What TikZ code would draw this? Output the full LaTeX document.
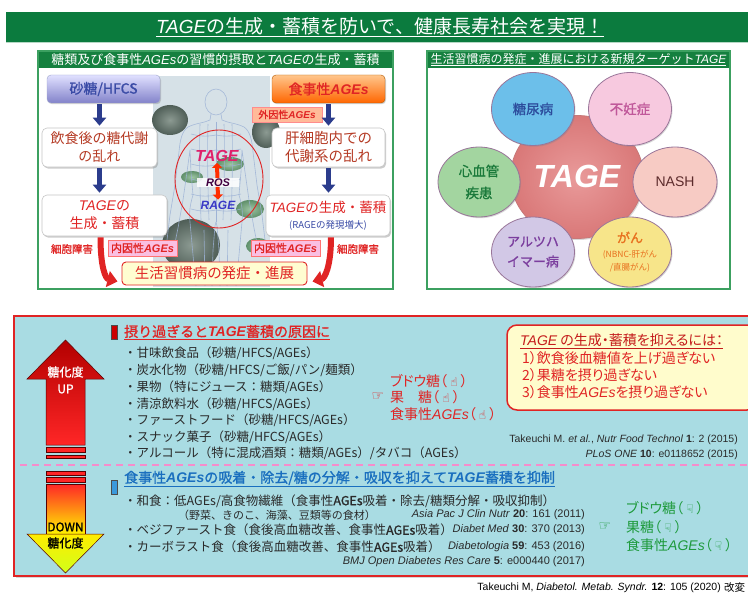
\documentclass[tikz,border=0pt]{standalone}
\usepackage{fontspec}
\usetikzlibrary{shadows,arrows.meta,calc,shapes.geometric}
\setmainfont{Noto Sans CJK JP}[BoldFont={Noto Sans CJK JP},BoldFeatures={FakeBold=1.2}]
\newfontfamily\jpp{Noto Sans CJK JP}[RawFeature=+palt,BoldFont={Noto Sans CJK JP},BoldFeatures={FakeBold=1.2}]
\newfontfamily\lsans{Liberation Sans}
\newfontfamily\dvs{DejaVu Sans}
\newcommand\fs[2]{\fontsize{#1}{#2}\selectfont}
\newcommand\lit[1]{{\lsans\itshape #1}}
\newcommand\lbi[1]{{\lsans\bfseries\itshape #1}}
\newcommand\up{{\dvs\fs{12}{12}☝}}
\newcommand\dn{{\dvs\fs{12}{12}☟}}

\definecolor{ttlgreen}{HTML}{0B7B3E}
\definecolor{pnlgreen}{HTML}{3CA060}
\definecolor{hdrgreen}{HTML}{15803F}
\definecolor{navy}{HTML}{2B3C8C}
\definecolor{sugtxt}{HTML}{3A4BA6}
\definecolor{brick}{HTML}{B53A24}
\definecolor{tred}{HTML}{E02424}
\definecolor{dred}{HTML}{C41A1A}
\definecolor{mag}{HTML}{E0206A}
\definecolor{lbg}{HTML}{A9DCE3}
\definecolor{figbg}{HTML}{D6E1E7}
\definecolor{figline}{HTML}{9DB2D6}
\definecolor{txt}{HTML}{2A2A2A}
\definecolor{bluehd}{HTML}{1A6FBF}
\definecolor{gtxt}{HTML}{1E9A3C}
\definecolor{blobin}{HTML}{8C9A92}
\definecolor{blobout}{HTML}{4F5E57}
\definecolor{leafin}{HTML}{9CC4A2}
\definecolor{leafout}{HTML}{5F8F6A}
\definecolor{coreA}{HTML}{E99A9A}
\definecolor{coreB}{HTML}{D97878}
\definecolor{dmfill}{HTML}{6CBFEA}
\definecolor{dmtxt}{HTML}{2C4C9C}
\definecolor{inffill}{HTML}{F7C9DF}
\definecolor{inftxt}{HTML}{C0589A}
\definecolor{cvdfill}{HTML}{A3D5A0}
\definecolor{cvdtxt}{HTML}{1B7A3B}
\definecolor{nashfill}{HTML}{F7CBC4}
\definecolor{nashtxt}{HTML}{5C2B2B}
\definecolor{alzfill}{HTML}{D2C8E6}
\definecolor{alztxt}{HTML}{7B3E9E}
\definecolor{canfill}{HTML}{F7E58A}
\definecolor{cantxt}{HTML}{E8701E}

\tikzset{
  wbox/.style={draw=gray!45, fill=white, rounded corners=5pt, line width=0.6pt,
    drop shadow={shadow xshift=1.2pt, shadow yshift=-1.6pt, opacity=0.4},
    inner sep=0pt, align=center},
  bluearr/.style={draw=navy, line width=4.5pt, -{Triangle[length=8pt,width=13pt]}},
  redarr/.style={draw=tred, line width=6pt, -{Triangle[length=10pt,width=16pt]}},
  sat/.style={ellipse, draw=gray!65!violet!80, line width=0.8pt, minimum width=83pt,
    minimum height=73pt, inner sep=0pt, align=center,
    drop shadow={shadow xshift=1pt, shadow yshift=-1.2pt, opacity=0.3}},
  item/.style={anchor=west, inner sep=0pt, text=txt},
  cite/.style={inner sep=0pt, text=txt, font=\lsans\fs{10.5}{12}},
}

\begin{document}
\begin{tikzpicture}[x=1pt,y=-1pt]
\useasboundingbox (0,0) rectangle (748,594);
\fill[white] (0,0) rectangle (748,594);
\clip (0,0) rectangle (748,594);

% ---------- title bar ----------
\fill[ttlgreen] (6,12) rectangle (760,42);
\fill[ttlgreen!30!white] (6,42) rectangle (760,43.5);
\node[text=white, font=\fs{19}{22}, inner sep=0pt] (title) at (380,27)
  {\underline{\lit{TAGE}の生成・蓄積を防いで、健康長寿社会を実現！}};

% ---------- left panel ----------
\draw[pnlgreen, line width=1.2pt, fill=white] (38,51) rectangle (393,289);
\fill[hdrgreen] (38.6,51.6) rectangle (392.4,68);
\node[text=white, font=\fs{13}{15}, inner sep=0pt] (lhdr) at (215.5,60)
  {糖類及び食事性\lit{AGEs}の習慣的摂取と\lit{TAGE}の生成・蓄積};

% body picture in the middle
\fill[figbg] (153,76) rectangle (270,287);
\shade[inner color=blobin, outer color=blobout] (170,120) ellipse (18 and 15);
\shade[inner color=blobin, outer color=blobout] (266,132) ellipse (14 and 16);
\shade[inner color=blobin, outer color=blobout] (191,245) ellipse (29 and 26);
\shade[inner color=leafin, outer color=leafout] (230,164) ellipse (14 and 7);
\shade[inner color=leafin, outer color=leafout] (192,177) ellipse (11 and 6);
\shade[inner color=leafin, outer color=leafout] (250,209) ellipse (14 and 9);
\shade[inner color=leafin, outer color=leafout] (258,246) ellipse (12 and 8);
\begin{scope}[figline, line width=0.6pt, opacity=0.85]
  \draw (216,102) ellipse (11 and 13);
  \foreach \s in {1,-1}{
    \begin{scope}[shift={(216,0)}, xscale=\s]
      \draw (5,114) -- (6,120) .. controls (12,123) and (20,123) .. (28,127)
            .. controls (34,131) and (36,140) .. (37,152) -- (41,185) -- (46,215)
            -- (49,240) .. controls (50,248) and (45,252) .. (42,248)
            -- (38,228) -- (33,200) -- (29,172) -- (26,150)
            -- (25,172) -- (23,195) .. controls (26,205) and (27,212) .. (26,222)
            -- (23,255) -- (20,286);
      \draw (4,286) -- (3,250) -- (1,226) -- (0,222);
      \draw (0,122) -- (0,222);
      \foreach \yy in {135,150,165,180,195,210}{
        \draw (0,\yy) .. controls (10,\yy+2) and (18,\yy+1) .. (25,\yy-1);
      }
      \foreach \xx in {8,16}{
        \draw (\xx,124) .. controls (\xx+1,160) and (\xx,190) .. (\xx-1,220);
      }
      \draw (12,230) -- (11,286);
    \end{scope}
  }
\end{scope}

% boxes
\node[draw=navy!45, rounded corners=4pt, top color=blue!12!white, bottom color=blue!40!gray!70,
      minimum width=113pt, minimum height=28pt, inner sep=0pt,
      drop shadow={shadow xshift=1pt, shadow yshift=-1.2pt, opacity=0.35},
      text=sugtxt, font=\fs{14}{16}\bfseries] (sugar) at (103.5,89) {砂糖/HFCS};
\node[draw=orange!70!black, rounded corners=4pt, top color=orange!45!white, bottom color=orange!80!red,
      minimum width=113pt, minimum height=28pt, inner sep=0pt,
      drop shadow={shadow xshift=1pt, shadow yshift=-1.2pt, opacity=0.35},
      text=tred, font=\fs{14}{16}\bfseries] (age) at (328.5,89) {食事性\lbi{AGEs}};
\node[draw=red!45, fill=red!35!orange!40!white, minimum width=70pt, minimum height=15pt,
      inner sep=0pt, text=tred, font=\fs{10}{12}\bfseries] (exo) at (287,114.5) {外因性\lbi{AGEs}};

\node[wbox, minimum width=115pt, minimum height=39pt, text=brick, font=\fs{14}{18}]
  (meta) at (99.5,147.5) {飲食後の糖代謝\\の乱れ};
\node[wbox, minimum width=113pt, minimum height=39pt, text=brick, font=\fs{14.5}{18}]
  (liver) at (328.5,147.5) {肝細胞内での\\代謝系の乱れ};
\node[wbox, minimum width=125pt, minimum height=41pt, text=tred, font=\fs{14}{18}]
  (tgl) at (104.5,215.5) {\lit{TAGE}の\\生成・蓄積};
\node[wbox, minimum width=124pt, minimum height=41pt, text=tred, font=\fs{13.5}{16}]
  (tgr) at (328,215.5) {\lit{TAGE}の生成・蓄積\\{\fs{9.5}{11}\color{sugtxt}(RAGEの発現増大)}};

\draw[bluearr] (meta.north |- sugar.south) ++(0,1) -- ($(meta.north)+(0,-2)$);
\draw[bluearr] (liver.north |- age.south) ++(0,1) -- ($(liver.north)+(0,-2)$);
\draw[bluearr] (meta.south) ++(0,1) -- ($(tgl.north -| meta.south)+(0,-2)$);
\draw[bluearr] (liver.south) ++(0,1) -- ($(tgr.north -| liver.south)+(0,-2)$);

\node[text=tred, font=\fs{10.5}{12}\bfseries, inner sep=0pt] (harmL) at (72,249) {細胞障害};
\node[text=tred, font=\fs{10.5}{12}\bfseries, inner sep=0pt] (harmR) at (358,249) {細胞障害};
\node[draw=red!55, fill=magenta!25!white, minimum width=69pt, minimum height=16pt,
      inner sep=0pt, text=tred, font=\fs{11}{12}\bfseries] (endoL) at (142.5,248) {内因性\lbi{AGEs}};
\node[draw=red!55, fill=magenta!25!white, minimum width=69pt, minimum height=16pt,
      inner sep=0pt, text=tred, font=\fs{11}{12}\bfseries] (endoR) at (285.5,248) {内因性\lbi{AGEs}};

\node[draw=tred, line width=0.9pt, fill=yellow!18!white, rounded corners=4pt,
      minimum width=185pt, minimum height=23pt, inner sep=0pt,
      text=tred, font=\fs{14.5}{16}] (disease) at (214.5,273.5) {生活習慣病の発症・進展};

\draw[redarr] ($(tgl.south)+(-4,1)$) .. controls +(0,30) and +(-12,-3) .. ($(disease.west)+(-4,8)$);
\draw[redarr] ($(tgr.south)+(3,1)$) .. controls +(0,30) and +(12,-3) .. ($(disease.east)+(5,8)$);

% TAGE / ROS / RAGE circle
\node[ellipse, draw=tred, line width=0.9pt, minimum width=88pt, minimum height=98pt] (ring) at (219,179) {};
\node[text=mag, font=\fs{16}{18}, inner sep=1pt] (tage) at (217,156) {\lbi{TAGE}};
\node[text=blue!55!gray, font=\fs{12}{14}, inner sep=1pt] (rage) at (218,205) {\lbi{RAGE}};
\draw[draw=red!65!orange, line width=4pt, {Triangle[length=5pt,width=10pt]}-{Triangle[length=5pt,width=10pt]}]
  (tage.south) -- (rage.north);
\fill[white, opacity=0.85] (197,178) rectangle (239,187);
\node[text=violet!50!black, font=\fs{11}{12}, inner sep=0pt] (ros) at (218,182.5) {\lbi{ROS}};

% ---------- right panel ----------
\draw[pnlgreen, line width=1.2pt, fill=white] (427,51) rectangle (730,289);
\fill[hdrgreen] (427.6,51.6) rectangle (729.4,68);
\node[text=white, font=\fs{12}{14}, inner sep=0pt] (rhdr) at (578.5,59.5)
  {\underline{生活習慣病の発症・進展における新規ターゲット\lit{TAGE}}};

\node[ellipse, draw=coreB!80!gray, line width=0.8pt, inner color=coreA, outer color=coreB,
      minimum width=133pt, minimum height=123pt, inner sep=0pt,
      drop shadow={shadow xshift=1pt, shadow yshift=-1.5pt, opacity=0.3}] (core) at (577,177) {};
\node[text=white, font=\fs{32}{34}, inner sep=0pt] (coretxt) at (577,176) {\lbi{TAGE}};

\node[sat, fill=dmfill, text=dmtxt, font=\fs{13.5}{17}\bfseries] (dm) at (533,109) {糖尿病};
\node[sat, fill=inffill, text=inftxt, font=\fs{13.5}{17}\bfseries] (inf) at (630,109) {不妊症};
\node[sat, minimum width=82pt, minimum height=70pt, fill=cvdfill, text=cvdtxt, font=\fs{13.5}{22}\bfseries] (cvd) at (479,182) {心血管\\疾患};
\node[sat, minimum width=84pt, minimum height=70pt, fill=nashfill, text=nashtxt, font=\lsans\fs{14}{16}] (nash) at (675,182) {NASH};
\node[sat, minimum width=83pt, minimum height=70pt, fill=alzfill, text=alztxt, font=\fs{13}{20}\bfseries] (alz) at (533,252) {アルツハ\\イマー病};
\node[sat, minimum width=83pt, minimum height=70pt, fill=canfill, text=cantxt, font=\fs{13}{16}\bfseries] (can) at (630,252)
  {がん\\[-1pt]{\fs{8.5}{10}\mdseries (NBNC-肝がん}\\[-3pt]{\fs{8.5}{10}\mdseries /直腸がん)}};

% ---------- lower panel ----------
\fill[lbg, draw=tred, line width=1.6pt,
      drop shadow={shadow xshift=2pt, shadow yshift=-2pt, opacity=0.3}] (14,316) rectangle (770,576);
\coordinate (dashL) at (20,465);
\coordinate (dashR) at (748,465);
\draw[magenta!45!white, line width=1.2pt, dash pattern=on 7pt off 5pt] (dashL) -- (dashR);

% glycation UP arrow
\shade[top color=red!70!black, bottom color=red!85!white, draw=red!35!black, line width=0.5pt]
  (65.5,340) -- (104,379) -- (85,379) -- (85,445) -- (46,445) -- (46,379) -- (27,379) -- cycle;
\filldraw[fill=red!85!white, draw=red!35!black, line width=0.5pt] (46,447.5) rectangle (85,452.5);
\filldraw[fill=red!85!white, draw=red!35!black, line width=0.5pt] (46,455) rectangle (85,458.5);
\node[text=white, font=\fs{12}{14}\bfseries, inner sep=0pt] (upA) at (65.5,372) {糖化度};
\node[text=white, font=\fs{12}{14}\bfseries, inner sep=0pt] (upB) at (65.5,389) {UP};

% glycation DOWN arrow
\filldraw[fill=red!85!white, draw=red!35!black, line width=0.5pt] (46,471.5) rectangle (85,475);
\filldraw[fill=red!85!white, draw=red!35!black, line width=0.5pt] (46,477) rectangle (85,482);
\shade[top color=red!85!white, middle color=orange!90!yellow, bottom color=yellow!90!orange, draw=red!35!black, line width=0.5pt]
  (46,484) rectangle (85,534);
\shade[top color=yellow!85!orange, bottom color=yellow!80!green!90!white, draw=red!35!black, line width=0.5pt]
  (27,534) -- (104,534) -- (65.5,573) -- cycle;
\node[text=black, font=\fs{12}{14}\bfseries, inner sep=0pt] (dnA) at (65.5,527) {DOWN};
\node[text=black, font=\fs{12}{14}\bfseries, inner sep=0pt] (dnB) at (65.5,543) {糖化度};

% upper block: causes
\filldraw[fill=red!80!black, draw=black!70, line width=0.4pt] (111,325.5) rectangle (117,339);
\node[item, text=tred, font=\fs{14}{16}\bfseries] (hdA) at (124,332.5) {\underline{摂り過ぎると\lbi{TAGE}蓄積の原因に}};
\begin{scope}[font=\fs{12.5}{14}]
\node[item] (a1) at (124,353) {・甘味飲食品（砂糖/HFCS/AGEs）};
\node[item] (a2) at (124,370) {・炭水化物（砂糖/HFCS/ご飯/パン/麺類）};
\node[item] (a3) at (124,387) {・果物（特にジュース：糖類/AGEs）};
\node[item] (a4) at (124,404) {・清涼飲料水（砂糖/HFCS/AGEs）};
\node[item] (a5) at (124,420) {・ファーストフード（砂糖/HFCS/AGEs）};
\node[item] (a6) at (124,437) {・スナック菓子（砂糖/HFCS/AGEs）};
\node[item] (a7) at (124,453) {・アルコール（特に混成酒類：糖類/AGEs）/タバコ（AGEs）};
\end{scope}
\node[text=tred, font=\dvs\fs{14}{14}, inner sep=0pt] (pointR) at (378,397) {☞};
\begin{scope}[font=\jpp\fs{14}{16}]
\node[item, text=tred] (r1) at (390,381) {ブドウ糖（ \up{} ）};
\node[item, text=tred] (r2) at (390,397.5) {果　糖（ \up{} ）};
\node[item, text=tred] (r3) at (390,414) {食事性\lit{AGEs}（ \up{} ）};
\end{scope}

% suppression box
\node[draw=tred, line width=1.5pt, fill=yellow!20!white, rounded corners=10pt,
      minimum width=250pt, minimum height=85pt, inner sep=0pt] (keep) at (632,367.5) {};
\begin{scope}[font=\jpp\fs{14}{16}]
\node[item, text=dred] (k0) at (520,341) {\underline{\lit{TAGE} の生成・蓄積を抑えるには：}};
\node[item, text=tred] (k1) at (522,358.5) {1）飲食後血糖値を上げ過ぎない};
\node[item, text=tred] (k2) at (522,375.5) {2）果糖を摂り過ぎない};
\node[item, text=tred] (k3) at (522,392.5) {3）食事性\lit{AGEs}を摂り過ぎない};
\end{scope}

\node[cite, anchor=east] (c1) at (738,440) {Takeuchi M. \textit{et al.}, \textit{Nutr Food Technol} \textbf{1}: 2 (2015)};
\node[cite, anchor=east] (c2) at (738,455) {\textit{PLoS ONE} \textbf{10}: e0118652 (2015)};

% lower block: prevention
\filldraw[fill=cyan!70!blue!80, draw=black!70, line width=0.4pt] (111,480) rectangle (117,494);
\node[item, text=bluehd, font=\fs{14}{16}\bfseries] (hdB) at (124,479)
  {\underline{食事性\lbi{AGEs}の吸着・除去/糖の分解・吸収を抑えて\lbi{TAGE}蓄積を抑制}};
\node[item, font=\fs{12.5}{14}] (b1) at (124,501) {・和食：低AGEs/高食物繊維（食事性\textbf{AGEs}吸着・除去/糖類分解・吸収抑制）};
\node[item, font=\fs{11}{13}] (b1s) at (178,515) {（野菜、きのこ、海藻、豆類等の食材）};
\node[item, font=\fs{12.5}{14}] (b2) at (124,530) {・ベジファースト食（食後高血糖改善、食事性\textbf{AGEs}吸着）};
\node[item, font=\fs{12.5}{14}] (b3) at (124,547) {・カーボラスト食（食後高血糖改善、食事性\textbf{AGEs}吸着）};
\node[cite, anchor=east, font=\lsans\fs{11}{13}] (c3) at (585,515) {\textit{Asia Pac J Clin Nutr} \textbf{20}: 161 (2011)};
\node[cite, anchor=east, font=\lsans\fs{11}{13}] (c4) at (585,530) {\textit{Diabet Med} \textbf{30}: 370 (2013)};
\node[cite, anchor=east, font=\lsans\fs{11}{13}] (c5) at (585,547) {\textit{Diabetologia} \textbf{59}: 453 (2016)};
\node[cite, anchor=east, font=\lsans\fs{11}{13}] (c6) at (585,562) {\textit{BMJ Open Diabetes Res Care} \textbf{5}: e000440 (2017)};

\node[text=gtxt, font=\dvs\fs{14}{14}, inner sep=0pt] (pointG) at (605,527) {☞};
\begin{scope}[font=\jpp\fs{14}{16}]
\node[item, text=gtxt] (g1) at (626,508) {ブドウ糖（ \dn{} ）};
\node[item, text=gtxt] (g2) at (626,527) {果糖（ \dn{} ）};
\node[item, text=gtxt] (g3) at (626,545) {食事性\lit{AGEs}（ \dn{} ）};
\end{scope}

% source line
\node[cite, anchor=east, font=\lsans\fs{10.5}{12}, text=black] (src) at (721,588)
  {Takeuchi M, \textit{Diabetol. Metab. Syndr.} \textbf{12}: 105 (2020)};
\node[anchor=west, inner sep=0pt, font=\fs{10.5}{12}, text=black] (src2) at ($(src.east)+(3,0)$) {改変};
\end{tikzpicture}
\end{document}
